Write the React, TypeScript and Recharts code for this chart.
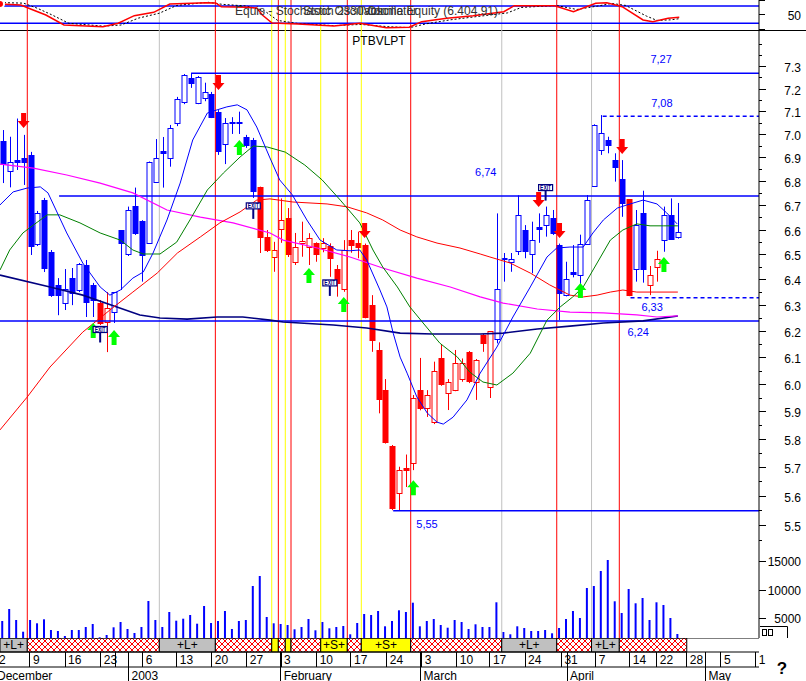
import React from 'react';
import { ComposedChart, Line, Bar, XAxis, YAxis, ReferenceLine, ReferenceArea, ReferenceDot } from 'recharts';

const FONT = '"Liberation Sans", Arial, sans-serif';
const X_DOMAIN = [-0.39, 108.66];

// ---- candles (index 0 = 2 Dec 2002) ----
const opens = [6.974,6.845,6.891,6.9,6.913,6.542,6.723,6.512,6.38,6.31,6.406,6.36,6.459,6.38,6.309,6.236,6.274,6.6,6.502,6.7,6.637,6.548,6.8,6.931,6.898,7.049,7.141,7.248,7.14,7.159,7.178,7.1,6.96,7.052,7.056,6.99,6.977,6.779,6.573,6.49,6.603,6.648,6.47,6.546,6.532,6.546,6.529,6.535,6.442,6.363,6.559,6.548,6.539,6.301,6.129,5.979,5.776,5.61,5.699,5.717,5.979,5.912,5.861,6.097,5.967,5.979,6.019,6.12,6.01,6.186,5.991,6.169,6.488,6.471,6.516,6.6,6.503,6.614,6.62,6.648,6.539,6.34,6.432,6.419,6.543,6.782,6.934,6.977,6.891,6.811,6.727,6.442,6.668,6.38,6.45,6.559,6.661,6.57];
const highs = [7.02,6.991,7.07,6.999,6.926,6.678,6.732,6.519,6.407,6.443,6.447,6.467,6.479,6.388,6.321,6.352,6.352,6.6,6.696,6.775,6.64,6.885,6.981,6.99,7.042,7.165,7.267,7.273,7.258,7.228,7.187,7.107,7.072,7.076,7.1,6.999,6.986,6.779,6.6,6.552,6.73,6.69,6.588,6.634,6.587,6.55,6.567,6.546,6.459,6.559,6.6,6.593,6.545,6.34,6.158,6.02,5.78,5.703,5.746,5.961,6.099,5.979,6.085,6.151,6.02,6.129,6.097,6.125,6.095,6.19,6.201,6.668,6.507,6.507,6.743,6.62,6.634,6.668,6.696,6.682,6.545,6.472,6.539,6.581,6.744,7.045,7.085,6.991,6.92,6.891,6.727,6.682,6.762,6.455,6.516,6.696,6.73,6.711];
const lows = [6.794,6.776,6.849,6.786,6.499,6.535,6.431,6.333,6.262,6.282,6.301,6.352,6.255,6.255,6.224,6.121,6.232,6.36,6.495,6.58,6.393,6.545,6.795,6.775,6.863,7.037,7.133,7.205,7.133,7.146,7.072,6.913,6.874,7.003,7.003,6.943,6.732,6.507,6.511,6.432,6.548,6.491,6.459,6.492,6.459,6.472,6.51,6.412,6.334,6.353,6.508,6.486,6.25,6.122,5.894,5.785,5.552,5.552,5.632,5.691,5.905,5.881,5.855,5.995,5.906,5.975,6.01,6.005,5.943,6.122,5.95,6.154,6.393,6.432,6.499,6.486,6.426,6.548,6.573,6.58,6.243,6.335,6.41,6.34,6.54,6.78,6.913,6.92,6.8,6.654,6.336,6.393,6.389,6.34,6.393,6.512,6.56,6.565];
const closes = [6.874,6.882,6.882,6.883,6.535,6.668,6.446,6.34,6.34,6.364,6.347,6.462,6.314,6.321,6.232,6.29,6.352,6.548,6.682,6.589,6.499,6.882,6.898,6.92,7.03,7.155,7.263,7.226,7.252,7.188,7.078,6.931,7.049,7.056,7.054,6.955,6.762,6.573,6.519,6.519,6.641,6.503,6.532,6.557,6.569,6.503,6.548,6.486,6.389,6.519,6.539,6.532,6.254,6.167,5.946,5.791,5.56,5.691,5.693,5.949,5.912,5.961,6.051,6.002,6.01,6.08,6.081,6.014,6.091,6.154,6.201,6.363,6.481,6.483,6.661,6.516,6.559,6.605,6.661,6.587,6.35,6.402,6.423,6.543,6.723,7.042,7.005,6.955,6.863,6.712,6.34,6.62,6.442,6.419,6.482,6.661,6.562,6.591];
const candleColors = 'bbbbbbbbbbbbbbrrbbbbbbbbbbbbbbbbbbbbbrrrrrrrrrrrrrrrrrrrrrrrrrrrrrrrrrrbbbbbbbbbbbbbbbbbbbrbbrrbbb'.split('');
const volumes = [4541,6661,4718,2650,4718,4135,4841,2951,2774,1890,2951,2951,3481,4011,1660,2067,3428,4364,3128,2421,3481,8075,4718,3481,6132,4594,4948,5601,4064,7192,4188,4541,6308,3128,4541,4718,10726,12493,5248,4135,4011,3834,3075,3481,4895,2898,4364,3251,3481,3658,2191,4188,5778,5601,6308,3605,4541,6432,6132,7775,3605,4541,4895,3834,3357,4718,4364,3128,3958,3481,3481,7846,2597,2191,3605,3304,2774,2774,2951,2368,3304,4895,6308,5071,10372,10726,13376,15320,8022,5955,10196,7669,8605,4718,7846,7368,5071,2244];

// ---- moving averages [index, price] ----
const blueMa = [[-0.39,6.703],[1.5,6.757],[3.5,6.773],[5.4,6.778],[6.5,6.753],[9.2,6.588],[11.5,6.467],[14,6.372],[15.4,6.34],[16.9,6.36],[18.7,6.407],[20.2,6.431],[21.6,6.507],[23.6,6.641],[25.5,6.794],[27.3,6.977],[29.4,7.094],[30.8,7.108],[32.2,7.121],[33.7,7.13],[35.1,7.108],[36.5,7.033],[38.4,6.9],[39.8,6.807],[41.6,6.745],[43.7,6.641],[45.6,6.559],[48,6.519],[49.9,6.516],[51.3,6.519],[52.3,6.479],[54.2,6.36],[55.2,6.294],[56.1,6.193],[57.1,6.102],[58.1,6.042],[59.5,5.954],[61,5.895],[62.4,5.862],[63.3,5.855],[64.7,5.88],[66.7,5.943],[68.6,6.042],[71,6.14],[73.3,6.255],[75.8,6.372],[78.2,6.491],[79.6,6.527],[81.5,6.531],[83.4,6.531],[84.8,6.588],[86.3,6.641],[88.3,6.69],[89.7,6.703],[92,6.723],[94,6.707],[95.4,6.67],[96.9,6.625]];
const greenMa = [[-0.39,6.439],[1,6.519],[2.9,6.588],[4.4,6.62],[6.4,6.662],[8.2,6.662],[11.1,6.629],[14,6.588],[16.9,6.559],[18.7,6.519],[20.2,6.503],[22.6,6.503],[25,6.551],[26.9,6.641],[29.4,6.765],[31.7,6.836],[34.1,6.904],[36,6.951],[38,6.947],[40.6,6.925],[43.4,6.87],[45.9,6.807],[48.5,6.723],[51.3,6.629],[53.2,6.519],[54.6,6.451],[56.7,6.372],[58.5,6.294],[60.4,6.232],[62.8,6.155],[65.3,6.103],[67.1,6.046],[69,6.009],[71,5.998],[73.3,6.042],[75.8,6.117],[78.2,6.243],[80.1,6.294],[81.9,6.333],[83.4,6.372],[85.4,6.467],[87.3,6.559],[89.1,6.6],[91.1,6.625],[93,6.617],[94.9,6.617],[97,6.617]];
const redMa = [[-0.39,5.834],[3.5,5.953],[6.8,6.065],[11.5,6.197],[15.4,6.282],[18.7,6.352],[22.2,6.427],[25.1,6.507],[28.4,6.572],[31.2,6.629],[34.1,6.674],[36.5,6.723],[38.4,6.728],[41.7,6.715],[46.6,6.707],[49.5,6.695],[52.3,6.67],[54.6,6.641],[57.1,6.6],[59.5,6.572],[62.4,6.547],[65.7,6.527],[68.6,6.503],[70,6.491],[72.9,6.467],[75.8,6.427],[78.6,6.38],[81.5,6.34],[83.4,6.333],[85.4,6.34],[87.3,6.352],[89.1,6.36],[91.1,6.352],[94,6.352],[97,6.352]];
const magentaMa = [[-0.39,6.874],[4.4,6.857],[9.2,6.828],[14,6.794],[18.7,6.753],[23.6,6.682],[28.4,6.653],[33.1,6.629],[38.4,6.588],[40.3,6.559],[45.2,6.527],[49.9,6.491],[54.6,6.447],[59.5,6.407],[64.3,6.372],[68.6,6.333],[71.9,6.309],[76.8,6.286],[81.5,6.274],[86.3,6.271],[91.1,6.263],[94,6.255],[97,6.259]];
const navyMa = [[-0.39,6.419],[6.8,6.372],[11.5,6.34],[16.4,6.294],[19.7,6.263],[22.6,6.251],[26.5,6.247],[30.8,6.255],[34.5,6.255],[38.4,6.243],[40.3,6.236],[47.5,6.224],[52.3,6.213],[57.1,6.193],[61.8,6.19],[68.6,6.19],[71.9,6.193],[76.8,6.209],[81.5,6.22],[86.3,6.232],[92,6.24],[97,6.259]];

// ---- stochastic [index, value] ----
const stochK = [[-0.39,87],[2.6,83.5],[4.1,68.6],[6.2,48.8],[8.8,14.1],[14.4,8.2],[16.6,20],[18.9,46.4],[21.7,58.2],[24,87],[29.2,91.5],[30.6,90.5],[31.4,77.6],[35.1,75.5],[36.5,73],[37.3,48.8],[38.7,21],[42.4,17.6],[47.6,10.6],[51.3,20],[55.1,4.7],[58.4,6.1],[60.2,25.6],[63.8,37.4],[67.6,46.4],[72,60.3],[73.5,81.1],[79.3,81.1],[82,60.3],[85.2,89.4],[86.8,91.5],[89,77.6],[92,31.5],[93.4,25.6],[95.6,37.4],[97.2,40.8]];
const stochD = [[-0.39,92],[3,90],[5,72],[7,50],[9.5,20],[14.5,10],[17,14],[19.5,38],[22.5,55],[25,82],[29.5,93],[31.5,86],[35,80],[37.5,65],[39.5,30],[42.5,19],[47.5,12],[51.5,16],[55.5,8],[58.5,5],[60.8,18],[64.3,32],[68,43],[72.5,56],[74.5,75],[79.5,82],[82.5,68],[85.5,80],[87.5,89],[89.5,82],[92.5,45],[94,30],[96,32],[97.2,36]];

// ---- signals ----
const greenArrowIdx = [13,16,34,44,49,59,83,95];
const greenArrowPrice = [6.232,6.205,6.977,6.447,6.333,5.656,6.388,6.491];
const redArrowIdx = [3,31,52,77,80,89];
const redArrowPrice = [7.029,7.196,6.568,6.694,6.568,6.917];
const exitIdx = [14,36,47,78];
const exitPrice = [6.207,6.699,6.388,6.775];

const levelValues = [7.27,7.08,6.74,6.33,6.24,5.55];
const levelStartIdx = [27.15,86.2,8.1,90.2,-0.39,56.1];
const levelDashed = [false,true,false,true,false,false];
const levelLabels = ['7,27','7,08','6,74','6,33','6,24','5,55'];
const levelLabelIdx = [94.6,94.7,69.4,93.3,91.3,60.96];
const levelLabelPrice = [7.335,7.14,6.841,6.293,6.196,5.505];

const redLinesIdx = [3.53,30.55,39.6,41.42,49.51,58.62,79.6,88.59];
const yellowLinesIdx = [38.65,40.6,45.69,51.52];
const grayLinesIdx = [22.5,71.7,84.6];

const segStart = [-0.39,3.53,22.5,30.55,38.65,39.6,40.6,41.42,45.69,49.51,51.52,58.62,71.7,79.6,84.6,88.59];
const segEnd = [3.53,22.5,30.55,38.65,39.6,40.6,41.42,45.69,49.51,51.52,58.62,71.7,79.6,84.6,88.59,98.28];
const segKind = ['L','x','L','x','y','x','y','x','S','x','S','x','L','x','L','x'];

const priceTicks = [5.45,5.5,5.55,5.6,5.65,5.7,5.75,5.8,5.85,5.9,5.95,6.0,6.05,6.1,6.15,6.2,6.25,6.3,6.35,6.4,6.45,6.5,6.55,6.6,6.65,6.7,6.75,6.8,6.85,6.9,6.95,7.0,7.05,7.1,7.15,7.2,7.25,7.3,7.35,7.4];
const priceLabelMax = 7.3;
const volumeTicks = [5000,10000,15000];
const stochTicks = [0,50,100];

const dateTickIdx = [-0.39,3.92,8.95,14.08,16.14,20.11,25.0,30.03,35.06,39.99,45.11,50.04,55.17,60.2,65.23,70.0,75.04,80.27,85.2,90.1,93.97,98.28,103.2,108.2];
const dateTickLabels = ['2','9','16','23','','6','13','20','27','3','10','17','24','3','10','17','24','31','7','14','22','28','5','1'];
const monthTickIdx = [-0.39,18.07,39.94,60.04,81.08,100.96];
const monthTickLabels = ['December','2003','February','March','April','May'];

// ---- rows ----
const candleRows = opens.map((o, k) => ({ i: k, range: [lows[k], highs[k]], o, h: highs[k], l: lows[k], c: closes[k], col: candleColors[k] }));
const volRows = volumes.map((v, k) => ({ i: k, v }));
const pts = (a: number[][]) => a.map(([i, p]) => ({ i, p }));

const Candle = (props: any) => {
  const { x, y, width, height, payload } = props;
  if (x == null || !payload || !isFinite(y)) return null;
  const cx = Math.round(x + width / 2) + 0.5;
  const { o, c, h, l, col } = payload;
  const lh = Math.log(h), ll = Math.log(l);
  const py = (v: number) => (lh === ll ? y : y + ((lh - Math.log(v)) / (lh - ll)) * height);
  const color = col === 'r' ? '#ff0000' : '#0000ff';
  const top = Math.round(py(Math.max(o, c))) + 0.5;
  const bot = Math.round(py(Math.min(o, c))) + 0.5;
  const filled = c < o;
  return (
    <g>
      <line x1={cx} x2={cx} y1={y} y2={y + height} stroke={color} strokeWidth={1} />
      <rect x={cx - 2.5} y={top} width={5} height={Math.max(1, bot - top)} fill={filled ? color : '#ffffff'} stroke={color} strokeWidth={1} />
    </g>
  );
};

const PriceTick = (props: any) => {
  const { x, y, payload } = props;
  const v = payload.value;
  const major = Math.round(v * 100) % 10 === 0;
  const labelled = major && v <= priceLabelMax + 0.001;
  return (
    <g>
      <line x1={x} x2={x + (labelled ? 7 : 3)} y1={y} y2={y} stroke="#000" shapeRendering="crispEdges" />
      {labelled && <text x={x + 42} y={y + 5.5} textAnchor="end" fontSize={12} fontFamily={FONT} fill="#000">{v.toFixed(1)}</text>}
    </g>
  );
};
const VolTick = (props: any) => {
  const { x, y, payload } = props;
  return (
    <g>
      <line x1={x} x2={x + 7} y1={y} y2={y} stroke="#000" shapeRendering="crispEdges" />
      <text x={x + 42} y={y + 4.5} textAnchor="end" fontSize={12} fontFamily={FONT} fill="#000">{payload.value}</text>
    </g>
  );
};
const StochTick = (props: any) => {
  const { x, y, payload } = props;
  return (
    <g>
      <line x1={x} x2={x + 6} y1={y} y2={y} stroke="#000" shapeRendering="crispEdges" />
      {payload.value === 50 && <text x={x + 42} y={y + 5.5} textAnchor="end" fontSize={12} fontFamily={FONT} fill="#000">50</text>}
    </g>
  );
};
const DateTick = (props: any) => {
  const { x, y, payload } = props;
  const k = dateTickIdx.indexOf(payload.value);
  const first = k === 0;
  return (
    <g>
      {!first && <line x1={x} x2={x} y1={y} y2={y + 15} stroke="#000" shapeRendering="crispEdges" />}
      <text x={first ? -1 : x + 3} y={y + 11.5} fontSize={12} fontFamily={FONT} fill="#000">{dateTickLabels[k]}</text>
    </g>
  );
};
const MonthTick = (props: any) => {
  const { x, y, payload } = props;
  const k = monthTickIdx.indexOf(payload.value);
  const first = k === 0;
  return (
    <g>
      {!first && <line x1={x} x2={x} y1={y - 15} y2={y + 14} stroke="#000" shapeRendering="crispEdges" />}
      <text x={first ? -3 : x + 3} y={y + 12.5} fontSize={12} fontFamily={FONT} fill="#000">{monthTickLabels[k]}</text>
    </g>
  );
};

const UpArrow = (props: any) => {
  const { cx, cy } = props;
  return <path d={`M${cx},${cy} L${cx + 6},${cy + 7} L${cx + 2.5},${cy + 7} L${cx + 2.5},${cy + 15} L${cx - 2.5},${cy + 15} L${cx - 2.5},${cy + 7} L${cx - 6},${cy + 7} Z`} fill="#00ff00" />;
};
const DownArrow = (props: any) => {
  const { cx, cy } = props;
  return <path d={`M${cx},${cy} L${cx + 6},${cy - 7} L${cx + 2.5},${cy - 7} L${cx + 2.5},${cy - 15} L${cx - 2.5},${cy - 15} L${cx - 2.5},${cy - 7} L${cx - 6},${cy - 7} Z`} fill="#ff0000" />;
};
const ExitMark = (props: any) => {
  const { cx, cy } = props;
  return (
    <g>
      <line x1={cx} x2={cx} y1={cy + 3} y2={cy + 13} stroke="#000080" strokeWidth={2} />
      <rect x={cx - 7} y={cy - 3} width={14} height={6} fill="#ffffff" stroke="#000080" strokeWidth={1.2} />
      <text x={cx} y={cy + 2.5} textAnchor="middle" fontSize={6.5} fontWeight="bold" fontFamily={FONT} fill="#000080" textLength={11} lengthAdjust="spacingAndGlyphs">EXIT</text>
    </g>
  );
};

const vLines = () => [
  ...grayLinesIdx.map((v, k) => <ReferenceLine key={'g' + k} x={v} stroke="#c0c0c0" strokeWidth={1} ifOverflow="visible" />),
  ...yellowLinesIdx.map((v, k) => <ReferenceLine key={'y' + k} x={v} stroke="#ffff00" strokeWidth={1} ifOverflow="visible" />),
  ...redLinesIdx.map((v, k) => <ReferenceLine key={'r' + k} x={v} stroke="#ff0000" strokeWidth={1} ifOverflow="visible" />),
];

const segFill = (k: string) => (k === 'L' ? '#c0c0c0' : k === 'x' ? 'url(#hatch)' : '#ffff00');
const segLabel = (k: string) => (k === 'L' ? '+L+' : k === 'S' ? '+S+' : '');

export default function App() {
  return (
    <div style={{ position: 'absolute', left: 0, top: 0, width: 806, height: 681, background: '#ffffff', overflow: 'hidden', fontFamily: FONT }}>
      <svg width="0" height="0" style={{ position: 'absolute' }}>
        <defs>
          <pattern id="hatch" width="6" height="6" patternUnits="userSpaceOnUse">
            <rect width="6" height="6" fill="#ffffff" />
            <path d="M0,0 L6,6 M6,0 L0,6" stroke="#ff0000" strokeWidth="1" />
          </pattern>
        </defs>
      </svg>

      {/* stochastic panel */}
      <div style={{ position: 'absolute', left: 0, top: 0 }}>
        <ComposedChart width={806} height={30} margin={{ top: 0, right: 0, bottom: 0, left: 0 }}>
          <XAxis dataKey="i" type="number" domain={X_DOMAIN} allowDataOverflow hide />
          <YAxis orientation="right" width={47} domain={[-3.3, 100.9]} allowDataOverflow ticks={stochTicks} interval={0} tick={<StochTick />} tickLine={false} tickSize={0} tickMargin={0} axisLine={{ stroke: '#000' }} />
          {vLines()}
          <ReferenceLine y={80} stroke="#0000ff" strokeWidth={1.5} />
          <ReferenceLine y={20} stroke="#0000ff" strokeWidth={1.5} />
          <Line data={pts(stochD)} dataKey="p" stroke="#000000" strokeDasharray="2 2" strokeWidth={1} dot={false} isAnimationActive={false} />
          <Line data={pts(stochK)} dataKey="p" stroke="#ff0000" strokeWidth={1.5} dot={false} isAnimationActive={false} />
        </ComposedChart>
      </div>
      <div style={{ position: 'absolute', left: 0, top: 30, width: 806, height: 1, background: '#000' }} />

      {/* price panel */}
      <div style={{ position: 'absolute', left: 0, top: 30 }}>
        <ComposedChart width={806} height={518} data={candleRows} margin={{ top: 0, right: 0, bottom: 0, left: 0 }}>
          <XAxis dataKey="i" type="number" domain={X_DOMAIN} allowDataOverflow hide />
          <YAxis orientation="right" width={47} scale="log" domain={[5.424, 7.467]} allowDataOverflow ticks={priceTicks} interval={0} tick={<PriceTick />} tickLine={false} tickSize={0} tickMargin={0} axisLine={{ stroke: '#000' }} />
          {vLines()}
          {levelValues.map((v, k) => (
            <ReferenceLine key={'lv' + k} segment={[{ x: levelStartIdx[k], y: v }, { x: X_DOMAIN[1], y: v }]} stroke="#0000ff" strokeWidth={1.5} strokeDasharray={levelDashed[k] ? '4 3' : undefined} ifOverflow="visible" />
          ))}
          <Line data={pts(navyMa)} dataKey="p" stroke="#000080" strokeWidth={1.6} dot={false} isAnimationActive={false} />
          <Line data={pts(magentaMa)} dataKey="p" stroke="#ff00ff" strokeWidth={1.2} dot={false} isAnimationActive={false} />
          <Line data={pts(redMa)} dataKey="p" stroke="#ff0000" strokeWidth={1} dot={false} isAnimationActive={false} />
          <Line data={pts(greenMa)} dataKey="p" stroke="#008000" strokeWidth={1} dot={false} isAnimationActive={false} />
          <Bar dataKey="range" barSize={5} shape={<Candle />} isAnimationActive={false} />
          <Line data={pts(blueMa)} dataKey="p" stroke="#0000ff" strokeWidth={1} dot={false} isAnimationActive={false} />
          {greenArrowIdx.map((v, k) => <ReferenceDot key={'ga' + k} x={v} y={greenArrowPrice[k]} r={0} shape={(p: any) => <UpArrow {...p} />} />)}
          {redArrowIdx.map((v, k) => <ReferenceDot key={'ra' + k} x={v} y={redArrowPrice[k]} r={0} shape={(p: any) => <DownArrow {...p} />} />)}
          {exitIdx.map((v, k) => <ReferenceDot key={'ex' + k} x={v} y={exitPrice[k]} r={0} shape={(p: any) => <ExitMark {...p} />} />)}
          {levelLabels.map((t, k) => (
            <ReferenceDot key={'ll' + k} x={levelLabelIdx[k]} y={levelLabelPrice[k]} r={0}
              shape={(p: any) => <text x={p.cx} y={p.cy + 4} textAnchor="middle" fontSize={11} fontFamily={FONT} fill="#0000ff">{t}</text>} />
          ))}
        </ComposedChart>
      </div>

      {/* volume panel */}
      <div style={{ position: 'absolute', left: 0, top: 548 }}>
        <ComposedChart width={806} height={90} data={volRows} margin={{ top: 0, right: 0, bottom: 0, left: 0 }}>
          <XAxis dataKey="i" type="number" domain={X_DOMAIN} allowDataOverflow hide />
          <YAxis orientation="right" width={47} domain={[1537, 17438]} allowDataOverflow ticks={volumeTicks} interval={0} tick={<VolTick />} tickLine={false} tickSize={0} tickMargin={0} axisLine={{ stroke: '#000' }} />
          {vLines()}
          <Bar dataKey="v" barSize={2} fill="#0000ff" isAnimationActive={false} />
        </ComposedChart>
      </div>

      {/* signal strip + date axis */}
      <div style={{ position: 'absolute', left: 0, top: 638 }}>
        <ComposedChart width={806} height={43} data={volRows} margin={{ top: 0, right: 47, bottom: 0, left: 0 }}>
          <XAxis xAxisId="d" dataKey="i" type="number" domain={X_DOMAIN} allowDataOverflow ticks={dateTickIdx} interval={0} tick={<DateTick />} tickLine={false} tickSize={0} tickMargin={0} height={15} axisLine={{ stroke: '#000' }} />
          <XAxis xAxisId="m" dataKey="i" type="number" domain={X_DOMAIN} allowDataOverflow ticks={monthTickIdx} interval={0} tick={<MonthTick />} tickLine={false} tickSize={0} tickMargin={0} height={14} axisLine={{ stroke: '#000' }} />
          <YAxis hide domain={[0, 1]} allowDataOverflow />
          {segStart.map((s, k) => (
            <ReferenceArea key={'sg' + k} xAxisId="d" x1={s} x2={segEnd[k]} y1={0} y2={1} fill={segFill(segKind[k])} fillOpacity={1} stroke="#000" strokeWidth={1} ifOverflow="visible"
              label={segLabel(segKind[k]) ? { value: segLabel(segKind[k]), position: 'center', fontSize: 12, fill: '#000', fontFamily: FONT } : undefined} />
          ))}
          <ReferenceLine xAxisId="d" y={1} stroke="#000" ifOverflow="visible" />
          <Line xAxisId="d" dataKey="v" stroke="none" dot={false} isAnimationActive={false} />
        </ComposedChart>
      </div>

      {/* overlay texts */}
      <svg width={806} height={681} style={{ position: 'absolute', left: 0, top: 0, pointerEvents: 'none' }}>
        <text x={235} y={15} fontSize={12} fontFamily={FONT} fill="#333">Equis - Stochastic Oscillator</text>
        <text x={303} y={15} fontSize={12} fontFamily={FONT} fill="#333">Stoch 2330 Oscillator</text>
        <text x={498} y={15} textAnchor="end" fontSize={12} fontFamily={FONT} fill="#333">Volume Equity (6.404.91)</text>
        <text x={379} y={45} textAnchor="middle" fontSize={12} fontFamily={FONT} fill="#000">PTBVLPT</text>
        <path d="M760,626.5 L787.5,626.5 L787.5,638" stroke="#000" fill="none" />
        <rect x={762.5} y={629.5} width={4} height={6} fill="none" stroke="#000" />
        <rect x={768.5} y={629.5} width={4} height={6} fill="none" stroke="#000" />
        <text x={782} y={674} textAnchor="middle" fontSize={17} fontWeight="bold" fontFamily={FONT} fill="#000">?</text>
      </svg>
    </div>
  );
}
